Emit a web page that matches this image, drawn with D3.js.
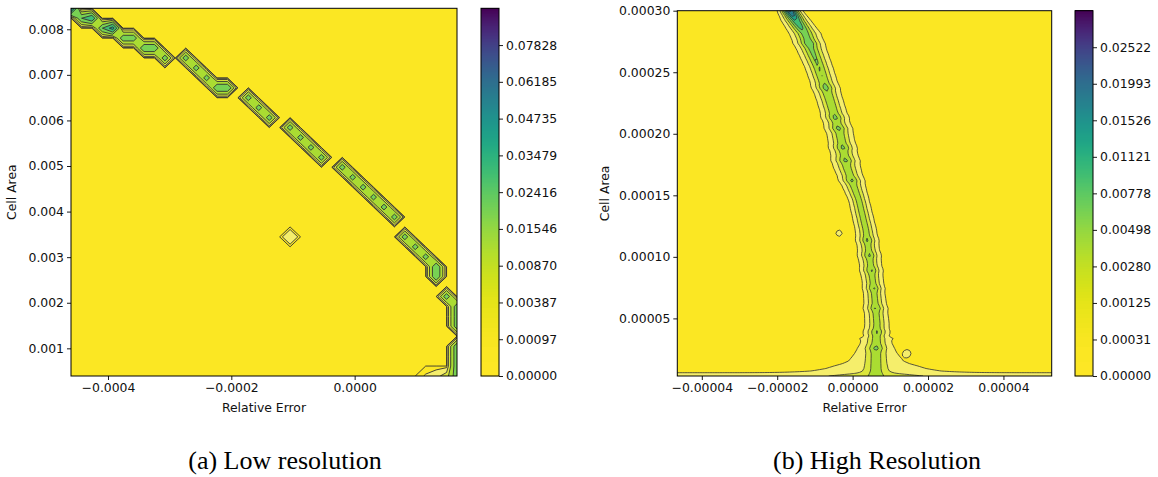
<!DOCTYPE html>
<html><head><meta charset="utf-8">
<script src="https://cdn.jsdelivr.net/npm/d3@7"></script>
<style>body{margin:0;background:#fff} svg{display:block}</style>
</head><body>
<svg id="chart" width="1158" height="477"></svg>
<script>
// ================= DATA : (a) Low resolution =================
const lowXTicks = [-0.0004, -0.0002, 0.0];
const lowYTicks = [0.001, 0.002, 0.003, 0.004, 0.005, 0.006, 0.007, 0.008];
const lowXDomain = [-0.00046, 0.000166];
const lowYDomain = [0.000393, 0.00846];
const lowGridCols = 38, lowGridRows = 38;
const lowLevels = [0.00000, 0.00097, 0.00387, 0.00870, 0.01546, 0.02416, 0.03479, 0.04735, 0.06185, 0.07828, 0.0966];
// non-zero histogram cells (Relative Error, Cell Area, density)
const lowRidgeX = [-0.000460,-0.000443,-0.000426,-0.000409,-0.000392,-0.000375,-0.000358,-0.000342,-0.000325,-0.000308,
  -0.000274,-0.000257,-0.000240,-0.000223,-0.000206,-0.000172,-0.000155,-0.000139,
  -0.000105,-0.000088,-0.000071,-0.000054,
  -0.000020,-0.000003,0.000014,0.000031,0.000048,0.000064,
  0.000081,0.000098,0.000115,0.000132,0.000132,
  0.000149,0.000166,0.000166,0.000166,
  0.000166,0.000166,0.000166,0.000166,
  -0.000105, 0.000149, 0.000132, 0.000115];
const lowRidgeY = [0.008460,0.008242,0.008242,0.008024,0.008024,0.007806,0.007806,0.007588,0.007588,0.007370,
  0.007370,0.007152,0.006934,0.006716,0.006716,0.006498,0.006280,0.006062,
  0.005844,0.005626,0.005408,0.005190,
  0.004972,0.004754,0.004536,0.004317,0.004099,0.003881,
  0.003445,0.003227,0.003009,0.002791,0.002573,
  0.002137,0.001919,0.001701,0.001483,
  0.001047,0.000829,0.000611,0.000393,
  0.003445, 0.000393, 0.000393, 0.000393];
const lowRidgeV = [0.052,0.024,0.034,0.024,0.040,0.0216,0.0216,0.024,0.024,0.0216,
  0.0216,0.0216,0.0216,0.024,0.024,0.0216,0.0216,0.0216,
  0.0216,0.0216,0.0216,0.0216,
  0.0216,0.0216,0.0216,0.0216,0.0216,0.0216,
  0.0216,0.0216,0.0216,0.024,0.024,
  0.0216,0.021,0.021,0.021,
  0.022,0.022,0.022,0.021,
  0.0037, 0.006, 0.0025, 0.0012];

// ================= DATA : (b) High Resolution =================
const highXTicks = [-0.00004, -0.00002, 0.0, 0.00002, 0.00004];
const highYTicks = [0.00005, 0.00010, 0.00015, 0.00020, 0.00025, 0.00030];
const highXDomain = [-0.0000465, 0.0000528];
const highYDomain = [0.0000032, 0.0003];
const highGridCols = 151, highGridRows = 147;
const highLevels = [0.00000, 0.00031, 0.00125, 0.00280, 0.00498, 0.00778, 0.01121, 0.01526, 0.01993, 0.02522, 0.0311];
const highRidgeY      = [0.000300, 0.0002921, 0.0002816, 0.000254, 0.0002272, 0.0002004, 0.0001728, 0.000146, 0.0001217, 0.0000973, 0.000073, 0.0000462, 0.0000243, 0.0000032];
const highRidgeCenter = [-1.663e-5, -1.504e-5, -1.265e-5, -8.94e-6, -6.02e-6, -3.37e-6, -1.51e-6, 1.67e-6, 3.53e-6, 4.59e-6, 5.65e-6, 6.45e-6, 6.18e-6, 6.18e-6];
const highRidgeHalf   = [3.4e-6, 3.9e-6, 4.2e-6, 3.7e-6, 3.5e-6, 3.5e-6, 3.6e-6, 2.7e-6, 2.8e-6, 2.95e-6, 2.75e-6, 3.2e-6, 3.4e-6, 3.4e-6];
const highRidgePeak   = [0.024, 0.012, 0.0068, 0.0052, 0.0046, 0.0043, 0.0042, 0.0040, 0.0040, 0.0040, 0.0039, 0.0039, 0.0037, 0.0034];
// small local maxima along the ridge (Cell Area)
const highBumpY = [0.0002735, 0.0002377, 0.0002134, 0.0002045, 0.000189, 0.0001785, 0.0001623, 0.0001136, 0.0001014, 0.0000892, 0.0000746, 0.0000584, 0.0000389, 0.0000259];
const highBumpV = 0.0016, highBumpSigmaY = 2.2e-6;
const highSkirtY    = [0.0000405, 0.0000283, 0.0000145, 0.0000097, 0.0000032];
const highSkirtHalf = [0, 3.5e-6, 7.5e-6, 1.3e-5, 1.75e-5];
const highSkirtPeak = [0, 0.0006, 0.0008, 0.0009, 0.001];
const highFloorY = [0.0000032, 0.000008];
const highFloorV = [0.0007, 0];
const highBlobX = [-0.0000036, 0.0000145];
const highBlobY = [0.0001192, 0.0000218];
const highBlobV = [0.0006, 0.0006];
const highBlobSigmaX = 1.0e-6, highBlobSigmaY = 3.0e-6;

// ================= FIELDS =================
function lowField() {
  const cols = lowGridCols, rows = lowGridRows;
  const dx = (lowXDomain[1]-lowXDomain[0])/(cols-1), dy = (lowYDomain[1]-lowYDomain[0])/(rows-1);
  const v = new Array(cols*rows).fill(0);
  lowRidgeX.forEach((x, k) => {
    const i = Math.round((x-lowXDomain[0])/dx), j = Math.round((lowYDomain[1]-lowRidgeY[k])/dy);
    v[j*cols+i] = lowRidgeV[k];
  });
  return {values: v, cols, rows};
}

function highField() {
  const cols = highGridCols, rows = highGridRows;
  const dx = (highXDomain[1]-highXDomain[0])/(cols-1), dy = (highYDomain[1]-highYDomain[0])/(rows-1);
  const L1 = highLevels[1];
  const sc = (d, r) => d3.scaleLinear().domain(d).range(r).clamp(true);
  const rc = sc(highRidgeY, highRidgeCenter), rh = sc(highRidgeY, highRidgeHalf), rp = sc(highRidgeY, highRidgePeak);
  const sh = sc(highSkirtY, highSkirtHalf), sp = sc(highSkirtY, highSkirtPeak);
  const fl = sc(highFloorY, highFloorV);
  const v = new Array(cols*rows).fill(0);
  for (let j = 0; j < rows; j++) {
    const y = highYDomain[1] - j*dy;
    const c = rc(y), h = rh(y), p0 = rp(y);
    const s = h / Math.pow(Math.log(p0/L1), 2/3);
    let p = p0;
    highBumpY.forEach(by => { p += highBumpV*Math.exp(-Math.pow((y-by)/highBumpSigmaY, 2)); });
    const skp = sp(y), skh = sh(y);
    const sks = skp > L1*1.05 ? skh/Math.sqrt(Math.log(skp/L1)) : Math.max(skh, 1e-9);
    const f = fl(y);
    for (let i = 0; i < cols; i++) {
      const x = highXDomain[0] + i*dx;
      let val = p*Math.exp(-Math.pow(Math.abs(x-c)/s, 1.5));
      if (skp > 0) val += skp*Math.exp(-Math.pow((x-c)/sks, 2));
      val += f;
      for (let b = 0; b < highBlobX.length; b++) {
        val += highBlobV[b]*Math.exp(-Math.pow((x-highBlobX[b])/highBlobSigmaX,2) - Math.pow((y-highBlobY[b])/highBlobSigmaY,2));
      }
      v[j*cols+i] = val;
    }
  }
  return {values: v, cols, rows};
}

// marching squares on the grid nodes: straight segments per cell, saddles resolved by the cell mean
function cellIso(F, L) {
  const {values: v, cols, rows} = F;
  const polys = [], segs = [];
  for (let j = 0; j < rows-1; j++) for (let i = 0; i < cols-1; i++) {
    const c = [[i,j],[i+1,j],[i+1,j+1],[i,j+1]];
    const z = c.map(([a,b]) => v[b*cols+a]);
    const hi = z.map(q => q > L);
    const n = hi.filter(Boolean).length;
    if (n === 0) continue;
    if (n === 4) { polys.push(c); continue; }
    const cross = [];
    for (let e = 0; e < 4; e++) {
      const a = e, b = (e+1)%4;
      if (hi[a] !== hi[b]) {
        const t = (L - z[a])/(z[b]-z[a]);
        cross[e] = [c[a][0] + t*(c[b][0]-c[a][0]), c[a][1] + t*(c[b][1]-c[a][1])];
      }
    }
    const saddle = n === 2 && hi[0] === hi[2];
    const meanHi = (z[0]+z[1]+z[2]+z[3])/4 > L;
    if (saddle && !meanHi) {
      for (let k = 0; k < 4; k++) if (hi[k]) {
        polys.push([cross[(k+3)%4], c[k], cross[k]]);
        segs.push([cross[(k+3)%4], cross[k]]);
      }
      continue;
    }
    const pts = [];
    for (let e = 0; e < 4; e++) { if (hi[e]) pts.push(c[e]); if (cross[e]) pts.push(cross[e]); }
    polys.push(pts);
    if (saddle) { for (let k = 0; k < 4; k++) if (!hi[k]) segs.push([cross[(k+3)%4], cross[k]]); }
    else segs.push(cross.filter(Boolean));
  }
  return {polys, segs};
}

// ================= DRAWING =================
const svg = d3.select("#chart");
const FONT = "'DejaVu Sans', sans-serif";
const TXT = "#111";
const bandWhiteMix = [0, 0.35, 0.15, 0, 0, 0, 0, 0, 0, 0];
function bandColor(levels, k) {
  const vmax = levels[levels.length-1];
  const mid = (levels[k] + levels[k+1]) / 2;
  const c = d3.interpolateViridis(1 - mid/vmax);
  return bandWhiteMix[k] ? d3.interpolateRgb(c, "#ffffff")(bandWhiteMix[k]) : c;
}

function drawPanel(o) {
  const g = svg.append("g");
  const xs = d3.scaleLinear().domain(o.xDomain).range([o.box.x0, o.box.x1]);
  const ys = d3.scaleLinear().domain(o.yDomain).range([o.box.y1, o.box.y0]);
  const F = o.field;
  const dxg = (o.xDomain[1]-o.xDomain[0])/(F.cols-1);
  const dyg = (o.yDomain[1]-o.yDomain[0])/(F.rows-1);
  const nL = o.levels.length - 1;

  g.append("clipPath").attr("id", o.id+"-clip").append("rect")
    .attr("x", o.box.x0).attr("y", o.box.y0).attr("width", o.box.x1-o.box.x0).attr("height", o.box.y1-o.box.y0);
  const plot = g.append("g").attr("clip-path", `url(#${o.id}-clip)`);
  plot.append("rect").attr("x", o.box.x0).attr("y", o.box.y0).attr("width", o.box.x1-o.box.x0).attr("height", o.box.y1-o.box.y0)
    .attr("fill", bandColor(o.levels, 0));

  let fills = [], lines = [];
  if (o.mode === "cells") {
    const toPx = ([gi, gj]) => [xs(o.xDomain[0] + gi*dxg), ys(o.yDomain[1] - gj*dyg)];
    const line = d3.line();
    for (let k = 0; k < nL; k++) {
      const r = cellIso(F, o.levels[k]);
      if (k > 0) fills.push({k, d: r.polys.map(p => line(p.map(toPx)) + "Z").join("")});
      lines.push(r.segs.map(s => line(s.map(toPx))).join(""));
    }
  } else {
    const proj = d3.geoTransform({ point(cx, cy) {
      this.stream.point(xs(o.xDomain[0] + (cx-0.5)*dxg), ys(o.yDomain[1] - (cy-0.5)*dyg));
    }});
    const path = d3.geoPath(proj);
    const cs = d3.contours().size([F.cols, F.rows]).thresholds(o.levels.slice(1, -1))(F.values);
    cs.forEach((c, idx) => { fills.push({k: idx+1, d: path(c)}); lines.push(path(c)); });
  }
  plot.selectAll("path.band").data(fills).join("path").attr("class","band")
    .attr("d", d => d.d).attr("fill", d => bandColor(o.levels, d.k));
  plot.selectAll("path.iso").data(lines).join("path").attr("class","iso")
    .attr("d", d => d).attr("fill","none").attr("stroke","#333").attr("stroke-width",o.lineW)
    .attr("stroke-opacity",0.9).attr("stroke-linejoin","round");

  g.append("rect").attr("x", o.box.x0).attr("y", o.box.y0).attr("width", o.box.x1-o.box.x0).attr("height", o.box.y1-o.box.y0)
    .attr("fill","none").attr("stroke","#000").attr("stroke-width",1);

  const xa = g.append("g").attr("transform", `translate(0,${o.box.y1})`)
    .call(d3.axisBottom(xs).tickValues(o.xTicks).tickFormat(d3.format(o.xFmt)).tickSize(4).tickPadding(3));
  const ya = g.append("g").attr("transform", `translate(${o.box.x0},0)`)
    .call(d3.axisLeft(ys).tickValues(o.yTicks).tickFormat(d3.format(o.yFmt)).tickSize(4).tickPadding(3));
  [xa, ya].forEach(a => {
    a.select(".domain").remove();
    a.selectAll("line").attr("stroke","#000").attr("stroke-width",0.9);
    a.selectAll("text").attr("font-family", FONT).attr("font-size", 12.4).attr("fill", TXT);
  });

  g.append("text").attr("x", (o.box.x0+o.box.x1)/2).attr("y", 412).attr("text-anchor","middle")
    .attr("font-family", FONT).attr("font-size", 12.4).attr("fill", TXT).text("Relative Error");
  g.append("text").attr("transform", `translate(${o.ylabX},${(o.box.y0+o.box.y1)/2}) rotate(-90)`)
    .attr("text-anchor","middle").attr("font-family", FONT).attr("font-size", 12.4).attr("fill", TXT).text("Cell Area");

  // colorbar
  const cb = o.cb;
  const cby = d3.scaleLinear().domain([0, nL]).range([cb.y1, cb.y0]);
  const vmax = o.levels[nL];
  const strips = d3.range(Math.floor(cb.y0), Math.ceil(cb.y1));
  g.append("g").selectAll("rect").data(strips).join("rect")
    .attr("x", cb.x0).attr("width", cb.x1-cb.x0).attr("y", d => d).attr("height", 1.3)
    .attr("fill", d => {
      const p = Math.max(0, Math.min(nL-1e-9, cby.invert(d+0.5)));
      const k = Math.floor(p), fr = p - k;
      const val = o.levels[k] + fr*(o.levels[k+1]-o.levels[k]);
      return d3.interpolateViridis(1 - val/vmax);
    });
  g.append("rect").attr("x", cb.x0).attr("y", cb.y0).attr("width", cb.x1-cb.x0).attr("height", cb.y1-cb.y0)
    .attr("fill","none").attr("stroke","#000").attr("stroke-width",1);
  const ca = g.append("g").attr("transform", `translate(${cb.x1},0)`)
    .call(d3.axisRight(cby).tickValues(d3.range(0, nL)).tickFormat(i => d3.format(".5f")(o.levels[i])).tickSize(4).tickPadding(3));
  ca.select(".domain").remove();
  ca.selectAll("line").attr("stroke","#000").attr("stroke-width",0.9);
  ca.selectAll("text").attr("font-family", FONT).attr("font-size", 12.4).attr("fill", TXT);

  svg.append("text").attr("x", o.capX).attr("y", 469).attr("text-anchor","middle")
    .attr("font-family","'Liberation Serif', 'Times New Roman', serif").attr("font-size", 26).attr("fill","#000").text(o.caption);
}

drawPanel({
  id: "low", mode: "cells", box: {x0: 71, x1: 457, y0: 8.3, y1: 376},
  xDomain: lowXDomain, yDomain: lowYDomain, field: lowField(), levels: lowLevels, lineW: 1.0,
  xTicks: lowXTicks, yTicks: lowYTicks, xFmt: ".4f", yFmt: ".3f",
  cb: {x0: 481, x1: 499, y0: 8.3, y1: 376}, ylabX: 16,
  caption: "(a) Low resolution", capX: 285
});
drawPanel({
  id: "high", mode: "d3", box: {x0: 677.3, x1: 1051.7, y0: 10.7, y1: 376},
  xDomain: highXDomain, yDomain: highYDomain, field: highField(), levels: highLevels, lineW: 0.9,
  xTicks: highXTicks, yTicks: highYTicks, xFmt: ".5f", yFmt: ".5f",
  cb: {x0: 1075, x1: 1093, y0: 10.7, y1: 376}, ylabX: 609,
  caption: "(b) High Resolution", capX: 877
});
</script>
</body></html>
